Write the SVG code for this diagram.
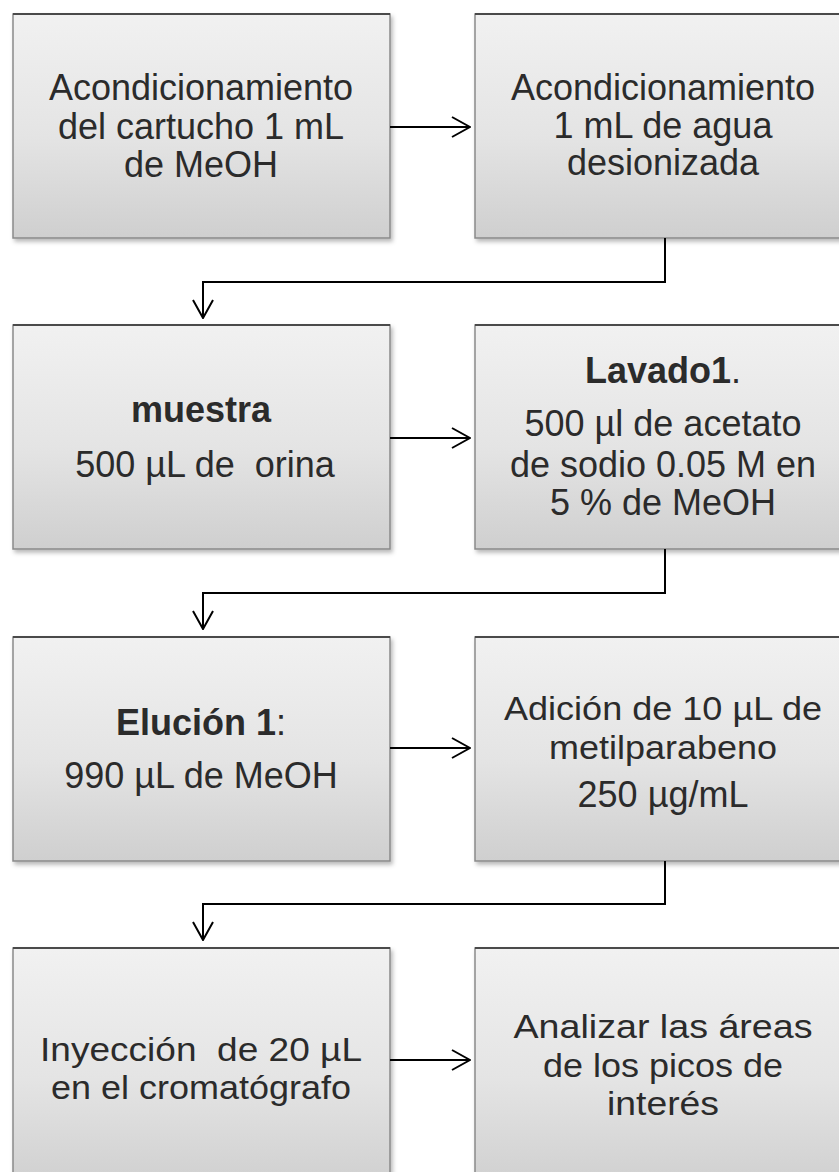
<svg xmlns="http://www.w3.org/2000/svg" width="839" height="1172" viewBox="0 0 839 1172">
<style>
.box{fill:url(#g);stroke:#8a8a8a;stroke-width:1.5;filter:url(#sh)}
.top{stroke:#4a4a4a;stroke-width:2}
text{font-family:"Liberation Sans",Arial,sans-serif;font-size:36px;fill:#2b2b2b;text-anchor:middle}
.s{font-size:33px}
.b{font-weight:bold}
.c{fill:none;stroke:#000;stroke-width:2}
</style>
<defs>
<linearGradient id="g" x1="0" y1="0" x2="0" y2="1">
<stop offset="0" stop-color="#f1f1f1"/>
<stop offset="0.55" stop-color="#e4e4e4"/>
<stop offset="1" stop-color="#cfcfcf"/>
</linearGradient>
<filter id="sh" x="-5%" y="-5%" width="115%" height="115%">
<feDropShadow dx="2" dy="3" stdDeviation="2" flood-color="#000" flood-opacity="0.28"/>
</filter>
<marker id="ah" viewBox="0 0 20 22" refX="19" refY="11" markerWidth="20" markerHeight="22" markerUnits="userSpaceOnUse" orient="auto">
<path d="M1,1 L19,11 L1,21" fill="none" stroke="#000" stroke-width="2"/>
</marker>
</defs>

<g id="n1"><rect class="box" x="13" y="14" width="377" height="224"/><line class="top" x1="13" y1="14" x2="390" y2="14"/>
<text x="201" y="100">Acondicionamiento</text><text x="201" y="139">del cartucho 1 mL</text><text x="201" y="177">de MeOH</text></g>
<g id="n2"><rect class="box" x="475" y="14" width="377" height="224"/><line class="top" x1="475" y1="14" x2="852" y2="14"/>
<text x="663" y="100">Acondicionamiento</text><text x="663" y="138">1 mL de agua</text><text x="663" y="175">desionizada</text></g>

<g id="n3"><rect class="box" x="13" y="325" width="377" height="224"/><line class="top" x1="13" y1="325" x2="390" y2="325"/>
<text x="201" y="422" class="b">muestra</text><text x="205" y="477" xml:space="preserve">500 µL de  orina</text></g>
<g id="n4"><rect class="box" x="475" y="325" width="377" height="224"/><line class="top" x1="475" y1="325" x2="852" y2="325"/>
<text x="663" y="383"><tspan class="b">Lavado1</tspan>.</text><text x="663" y="436">500 µl de acetato</text><text x="663" y="477">de sodio 0.05 M en</text><text x="663" y="515">5 % de MeOH</text></g>

<g id="n5"><rect class="box" x="13" y="637" width="377" height="224"/><line class="top" x1="13" y1="637" x2="390" y2="637"/>
<text x="201" y="735"><tspan class="b">Elución 1</tspan>:</text><text x="201" y="788">990 µL de MeOH</text></g>
<g id="n6"><rect class="box" x="475" y="637" width="377" height="224"/><line class="top" x1="475" y1="637" x2="852" y2="637"/>
<text class="s" x="663" y="720" textLength="318" lengthAdjust="spacingAndGlyphs">Adición de 10 µL de</text><text class="s" x="663" y="759" textLength="228" lengthAdjust="spacingAndGlyphs">metilparabeno</text><text x="663" y="807">250 µg/mL</text></g>

<g id="n7"><rect class="box" x="13" y="948" width="377" height="240"/><line class="top" x1="13" y1="948" x2="390" y2="948"/>
<text class="s" x="201" y="1061" textLength="322" lengthAdjust="spacingAndGlyphs" xml:space="preserve">Inyección  de 20 µL</text><text class="s" x="201" y="1099" textLength="300" lengthAdjust="spacingAndGlyphs">en el cromatógrafo</text></g>
<g id="n8"><rect class="box" x="475" y="948" width="377" height="240"/><line class="top" x1="475" y1="948" x2="852" y2="948"/>
<text class="s" x="663" y="1038" textLength="299" lengthAdjust="spacingAndGlyphs">Analizar las áreas</text><text class="s" x="663" y="1077" textLength="240" lengthAdjust="spacingAndGlyphs">de los picos de</text><text class="s" x="663" y="1115" textLength="112" lengthAdjust="spacingAndGlyphs">interés</text></g>

<g id="connectors">
<path class="c" d="M390,127 H470" marker-end="url(#ah)"/>
<path class="c" d="M665,238 V282 H203 V318" marker-end="url(#ah)"/>
<path class="c" d="M390,438 H470" marker-end="url(#ah)"/>
<path class="c" d="M665,549 V593 H203 V629" marker-end="url(#ah)"/>
<path class="c" d="M390,748 H470" marker-end="url(#ah)"/>
<path class="c" d="M665,861 V904 H203 V940" marker-end="url(#ah)"/>
<path class="c" d="M390,1060 H470" marker-end="url(#ah)"/>
</g>
</svg>
